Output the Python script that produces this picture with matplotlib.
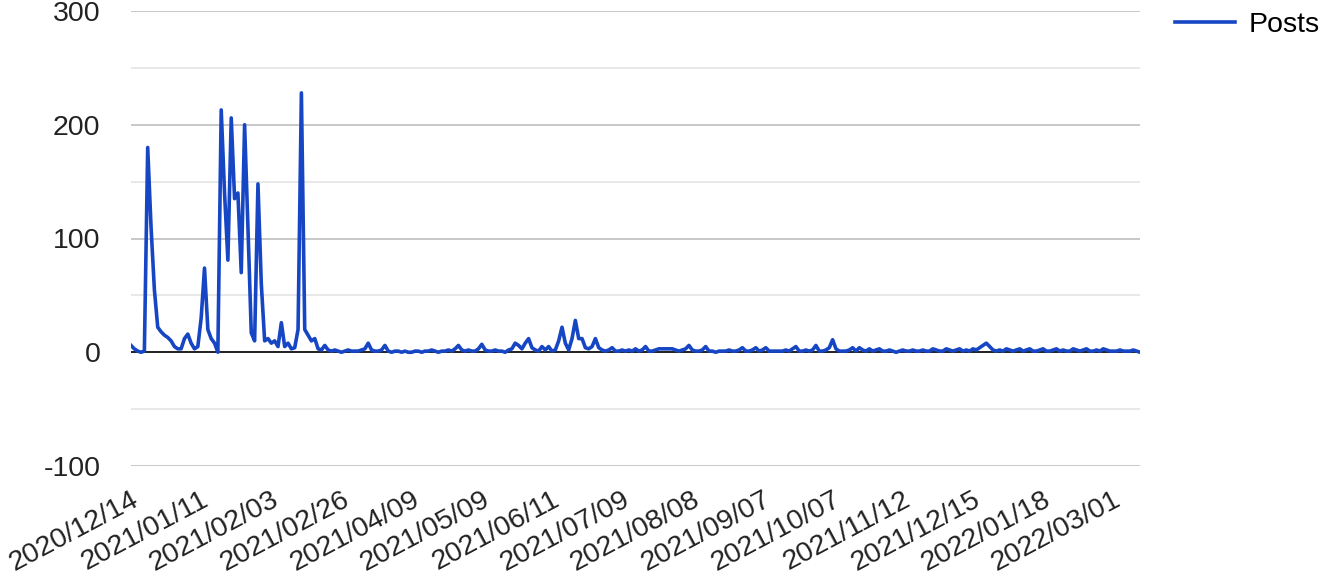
import matplotlib
matplotlib.use('Agg')
import matplotlib.pyplot as plt
import numpy as np

plt.rcParams['font.family'] = ['Liberation Sans', 'DejaVu Sans']
plt.rcParams['axes.unicode_minus'] = False

# posts per (active) day, one value per category on the x axis
posts = [
    6, 3, 1, 0, 1, 180, 110, 55, 22, 18,
    15, 13, 10, 5, 3, 3, 12, 16, 8, 3,
    5, 30, 74, 20, 12, 8, 0, 213, 140, 81,
    206, 135, 140, 70, 200, 110, 17, 10, 148, 60,
    10, 12, 8, 10, 5, 26, 5, 8, 3, 4,
    20, 228, 20, 15, 10, 12, 3, 2, 6, 2,
    1, 2, 1, 0, 1, 2, 1, 1, 1,
    2, 3, 8, 2, 1, 1, 2, 6, 1, 0,
    1, 1, 0, 1, 0, 0, 1, 1, 0, 1,
    1, 2, 1, 0, 1, 1, 2, 1, 3, 6,
    2, 1, 2, 1, 1, 3, 7, 2, 1,
    1, 2, 1, 1, 0, 2, 3, 8, 6, 3,
    8, 12, 4, 2, 1, 5, 2, 5, 1, 2,
    10, 22, 8, 2, 12, 28, 12, 12, 4, 3,
    5, 12, 4, 2, 1, 2, 4, 1, 1, 2,
    1, 2, 1, 3, 1, 2, 5, 1, 1,
    2, 3, 3, 3, 3, 3, 2, 1, 2, 3,
    6, 2, 1, 1, 2, 5, 1, 1, 0, 1,
    1, 1, 2, 1, 1, 2, 4, 1, 1, 2,
    4, 1, 2, 4, 1, 1, 1, 1, 1,
    2, 1, 3, 5, 1, 1, 2, 1, 2, 6,
    1, 1, 2, 4, 11, 3, 1, 1, 1, 2,
    4, 1, 4, 2, 1, 3, 1, 2, 3, 1,
    1, 2, 1, 0, 1, 2, 1, 1, 2, 1,
    1, 2, 1, 1, 3, 2, 1, 1, 3,
    2, 1, 2, 3, 1, 2, 1, 3, 2, 4,
    6, 8, 5, 2, 1, 2, 1, 3, 2, 1,
    2, 3, 1, 2, 3, 1, 1, 2, 3, 1,
    1, 2, 3, 1, 2, 1, 1, 3, 2, 1,
    2, 3, 1, 1, 2, 1, 3, 2, 1,
    1, 1, 2, 1, 1, 1, 2, 1, 0,
]

date_labels = ['2020/12/14', '2021/01/11', '2021/02/03', '2021/02/26',
               '2021/04/09', '2021/05/09', '2021/06/11', '2021/07/09',
               '2021/08/08', '2021/09/07', '2021/10/07', '2021/11/12',
               '2021/12/15', '2022/01/18', '2022/03/01']

label_every = 21
line_color = '#1646c4'

fig = plt.figure(figsize=(13.2, 5.85), dpi=100)
ax = fig.add_axes([131/1320, 1 - 466/585, (1140 - 131)/1320, 455/585])

x = np.arange(len(posts))
ax.plot(x, posts, color=line_color, lw=2.6, label='Posts', solid_joinstyle='round')

ax.set_xlim(0, len(posts) - 1)
ax.set_ylim(-100, 300)

# gridlines: darker every 100, light every 50
ax.set_yticks([-100, 0, 100, 200, 300])
ax.set_yticks([-50, 50, 150, 250], minor=True)
ax.grid(axis='y', which='major', color='#c4c4c4', lw=1.3)
ax.grid(axis='y', which='minor', color='#e6e6e6', lw=1.3)
ax.axhline(0, color='#222222', lw=1.4, zorder=1.5)
ax.set_axisbelow(True)

ticks = np.arange(0, len(posts), label_every)[:len(date_labels)]
ax.set_xticks(ticks)
ax.set_xticklabels(date_labels[:len(ticks)], rotation=28, ha='right', va='top',
                   rotation_mode='anchor')

ax.tick_params(axis='both', which='both', length=0, labelsize=20.5, colors='#222222')
ax.tick_params(axis='y', pad=22)
ax.tick_params(axis='x', pad=15)

for s in ax.spines.values():
    s.set_visible(False)

fig.legend(loc='center left', bbox_to_anchor=(1175/1320, 1 - 25/585),
           frameon=False, fontsize=20.5, handlelength=2.1, handletextpad=0.5,
           borderpad=0, borderaxespad=0)

plt.savefig('out.png', dpi=100)
